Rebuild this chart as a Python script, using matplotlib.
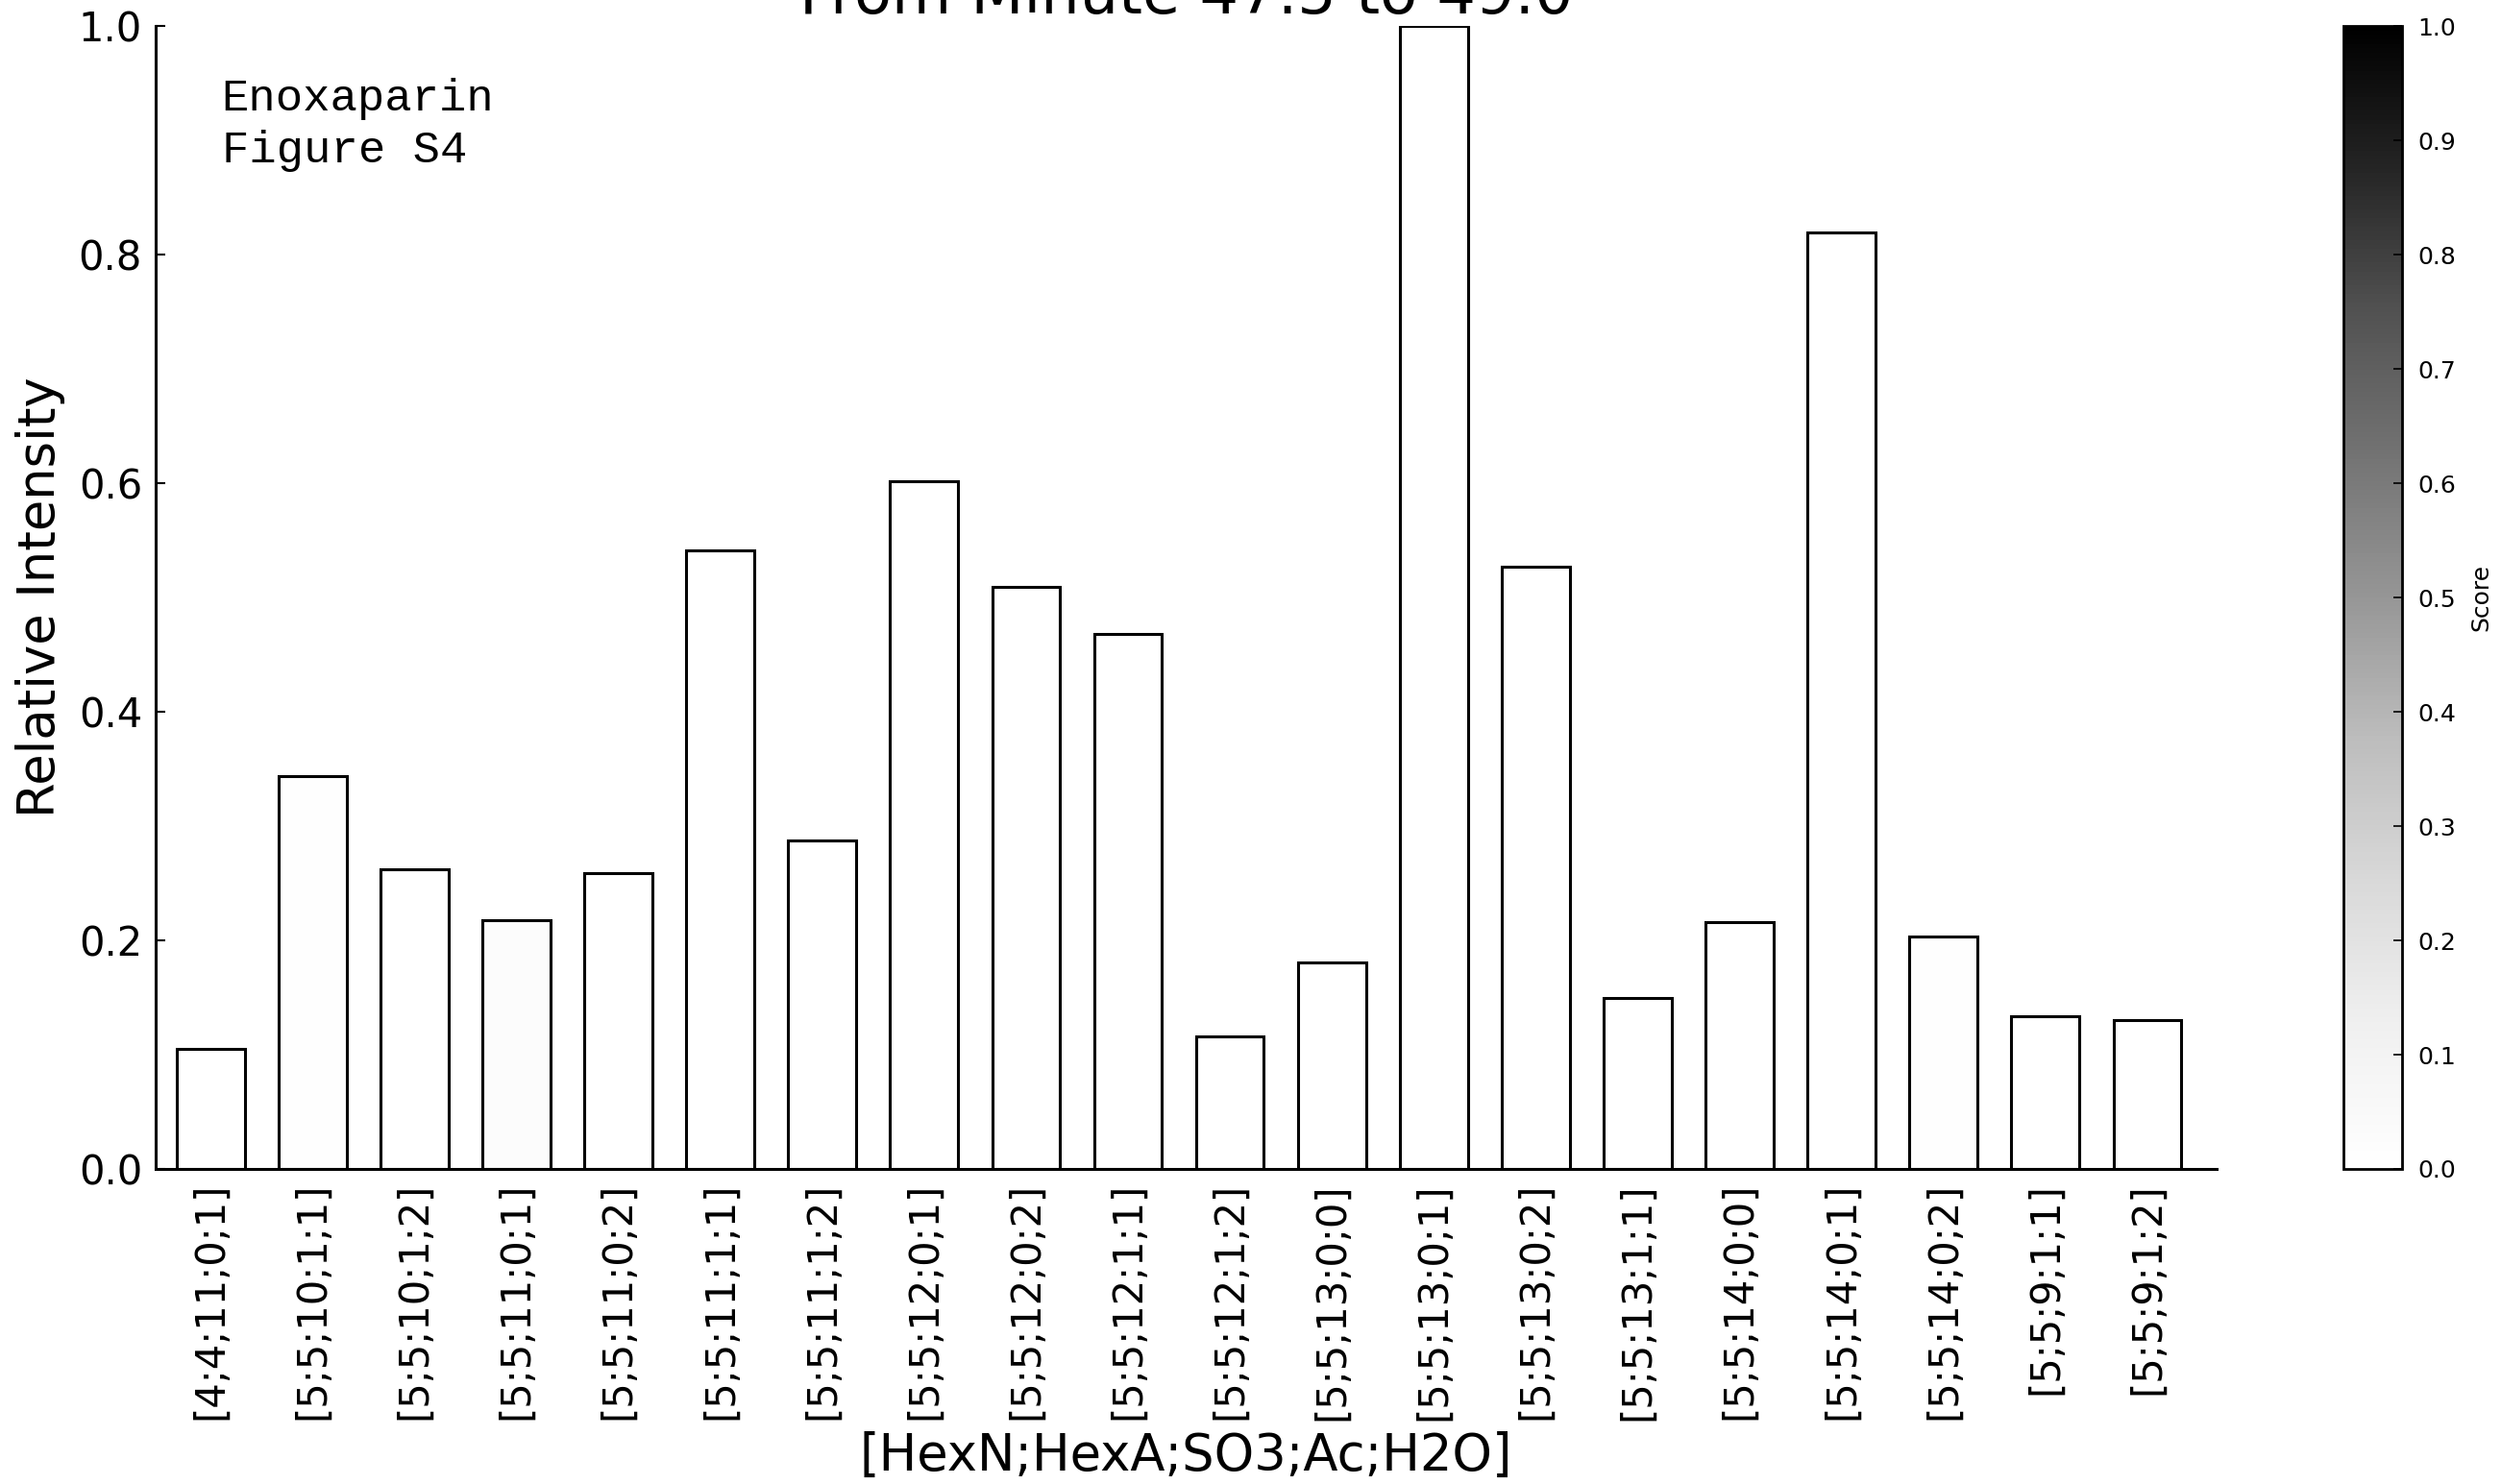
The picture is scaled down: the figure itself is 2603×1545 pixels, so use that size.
import numpy as np
import matplotlib
matplotlib.use("Agg")
import matplotlib.pyplot as plt
from matplotlib import cm, colors

# composiciones [HexN;HexA;SO3;Ac;H2O]
labels = [
    "[4;4;11;0;1]", "[5;5;10;1;1]", "[5;5;10;1;2]", "[5;5;11;0;1]",
    "[5;5;11;0;2]", "[5;5;11;1;1]", "[5;5;11;1;2]", "[5;5;12;0;1]",
    "[5;5;12;0;2]", "[5;5;12;1;1]", "[5;5;12;1;2]", "[5;5;13;0;0]",
    "[5;5;13;0;1]", "[5;5;13;0;2]", "[5;5;13;1;1]", "[5;5;14;0;0]",
    "[5;5;14;0;1]", "[5;5;14;0;2]", "[5;5;9;1;1]", "[5;5;9;1;2]",
]
intensity = [
    0.105, 0.344, 0.262, 0.218, 0.259, 0.541, 0.287, 0.602, 0.509, 0.468,
    0.116, 0.181, 1.000, 0.527, 0.150, 0.216, 0.819, 0.203, 0.134, 0.130,
]
score = [
    0.0, 0.01, 0.0, 0.03, 0.0, 0.0, 0.0, 0.0, 0.0, 0.0,
    0.0, 0.0, 0.0, 0.0, 0.0, 0.0, 0.0, 0.01, 0.0, 0.0,
]

cmap = plt.get_cmap("Greys")
norm = colors.Normalize(vmin=0, vmax=1)

fig = plt.figure(figsize=(26.03, 15.45), dpi=100)
ax = fig.add_axes([0.0622, 0.2123, 0.8241, 0.7702])

x = np.arange(len(labels))
ax.bar(x, intensity, width=0.667, color=cmap(norm(score)),
       edgecolor="black", linewidth=2.2)

ax.set_xlim(-0.54, 19.68)
ax.set_ylim(0, 1.0)
ax.set_xticks(x)
ax.set_xticklabels(labels, rotation=90, fontsize=30)
ax.set_yticks(np.arange(0, 1.01, 0.2))
ax.set_yticklabels([f"{v:.1f}" for v in np.arange(0, 1.01, 0.2)], fontsize=30)
ax.tick_params(axis="x", length=0, pad=10)
ax.tick_params(axis="y", direction="in", length=7, width=1.5, pad=10)

for s in ["top", "right"]:
    ax.spines[s].set_visible(False)
for s in ["left", "bottom"]:
    ax.spines[s].set_linewidth(2.2)

ax.set_xlabel("[HexN;HexA;SO3;Ac;H2O]", fontsize=38, labelpad=8)
ax.set_ylabel("Relative Intensity", fontsize=38, labelpad=10)
ax.set_title("From Minute 47.5 to 49.0", fontsize=46, pad=7)

ax.text(0.032, 0.955, "Enoxaparin\nFigure S4", transform=ax.transAxes,
        family="Liberation Mono", fontsize=34, va="top", ha="left",
        linespacing=1.3)

cax = fig.add_axes([0.937, 0.2123, 0.0234, 0.7702])
sm = cm.ScalarMappable(norm=norm, cmap=cmap)
cb = fig.colorbar(sm, cax=cax)
cb.set_ticks(np.arange(0, 1.01, 0.1))
cb.ax.tick_params(direction="in", length=6.5, width=1.2, labelsize=18, pad=12)
cb.outline.set_linewidth(2)
cb.set_label("Score", fontsize=18, labelpad=10)

fig.savefig("out.png", dpi=100)
